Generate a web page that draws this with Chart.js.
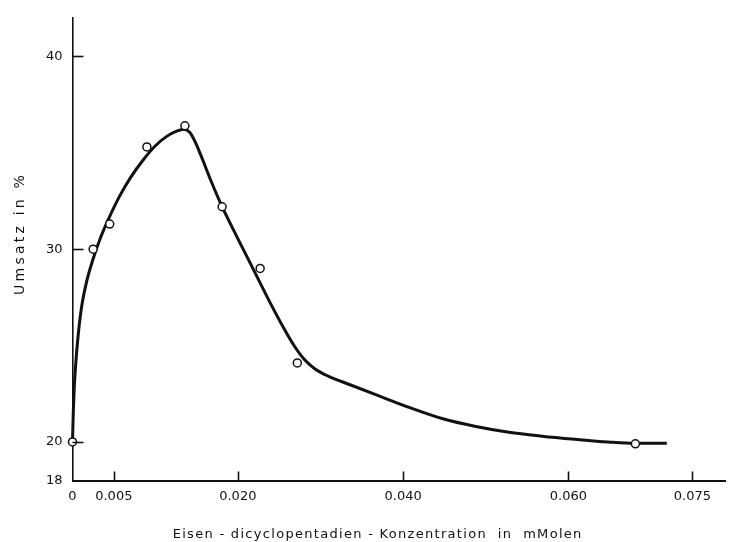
<!DOCTYPE html>
<html>
<head>
<meta charset="utf-8">
<script src="https://cdn.jsdelivr.net/npm/chart.js@4/dist/chart.umd.min.js"></script>
<style>
  html, body { margin: 0; padding: 0; background: #fff; }
  #wrap { width: 731px; height: 542px; position: relative; }
</style>
</head>
<body>
<div id="wrap"><canvas id="chart"></canvas></div>
<script>
/* Umsatz vs. Eisen-dicyclopentadien concentration, scanned-style plot */

const INK = '#111';
const FONT = '"DejaVu Sans", sans-serif';

// axis ticks
const xTicks = [0, 0.005, 0.020, 0.040, 0.060, 0.075];
const xTickLabels = ['0', '0.005', '0.020', '0.040', '0.060', '0.075'];
const yTicks = [18, 20, 30, 40];
const yTickLabels = ['18', '20', '30', '40'];

// measured points (open circles)
const measX = [0, 0.0025, 0.0045, 0.0090, 0.0136, 0.0181, 0.0227, 0.0272, 0.0681];
const measY = [20, 30.0, 31.3, 35.3, 36.4, 32.2, 29.0, 24.1, 19.9];

// hand-drawn fitted curve
const curveX = [0, 0.0001, 0.0002, 0.0004, 0.0007, 0.0011, 0.0017, 0.0025, 0.0034, 0.0045,
  0.0057, 0.0070, 0.0085, 0.0100, 0.0114, 0.0126, 0.0135, 0.0142, 0.0148, 0.0155,
  0.0167, 0.0181, 0.0200, 0.0220, 0.0240, 0.0255, 0.0268, 0.0280, 0.0293, 0.0310,
  0.0335, 0.0370, 0.0408, 0.0448, 0.0488, 0.0528, 0.0568, 0.0608, 0.0648, 0.0681, 0.0719];
const curveY = [20, 21.6, 22.7, 24.1, 25.6, 27.0, 28.3, 29.5, 30.6, 31.7,
  32.75, 33.7, 34.6, 35.35, 35.85, 36.12, 36.22, 36.05, 35.6, 34.9,
  33.6, 32.2, 30.55, 28.85, 27.15, 25.95, 25.0, 24.3, 23.8, 23.4,
  22.98, 22.4, 21.78, 21.2, 20.8, 20.5, 20.3, 20.14, 20.0, 19.93, 19.93];

const xTitle = 'Eisen - dicyclopentadien - Konzentration  in  mMolen';
const yTitle = 'Umsatz in %';

const pts = (xs, ys) => xs.map((x, i) => ({ x, y: ys[i] }));

// inward tick marks, like the original drawing
const inwardTicks = {
  id: 'inwardTicks',
  afterDraw(chart) {
    const { ctx, chartArea: a, scales: { x, y } } = chart;
    ctx.save();
    ctx.strokeStyle = INK;
    ctx.lineWidth = 1.6;
    yTicks.filter((v) => v !== 18).forEach((v) => {
      const py = Math.round(y.getPixelForValue(v)) + 0.5;
      ctx.beginPath(); ctx.moveTo(a.left, py); ctx.lineTo(a.left + 11, py); ctx.stroke();
    });
    xTicks.filter((v) => v !== 0).forEach((v) => {
      const px = Math.round(x.getPixelForValue(v)) + 0.5;
      ctx.beginPath(); ctx.moveTo(px, a.bottom); ctx.lineTo(px, a.bottom - 9); ctx.stroke();
    });
    ctx.restore();
  },
};

// axis titles, spread out like the stencilled lettering
function spacedText(ctx, text, cx, cy, width) {
  ctx.letterSpacing = '0px';
  const w = ctx.measureText(text).width;
  const sp = Math.max(0, (width - w) / text.length);
  ctx.letterSpacing = sp + 'px';
  ctx.fillText(text, cx + sp / 2, cy);
}

const axisTitles = {
  id: 'axisTitles',
  afterDraw(chart) {
    const { ctx } = chart;
    ctx.save();
    ctx.fillStyle = INK;
    ctx.textAlign = 'center';
    ctx.textBaseline = 'middle';
    ctx.font = '13px ' + FONT;
    spacedText(ctx, xTitle, 377, 535, 410);
    ctx.translate(20, 235);
    ctx.rotate(-Math.PI / 2);
    ctx.font = '14px ' + FONT;
    spacedText(ctx, yTitle, 0, 0, 123);
    ctx.restore();
  },
};

new Chart(document.getElementById('chart'), {
  type: 'scatter',
  data: {
    datasets: [
      {
        label: 'Messwerte',
        data: pts(measX, measY),
        order: 0,
        pointRadius: 4,
        pointHoverRadius: 4,
        pointBackgroundColor: '#fff',
        pointBorderColor: INK,
        pointBorderWidth: 1.5,
        showLine: false,
        clip: false,
      },
      {
        label: 'Kurve',
        data: pts(curveX, curveY),
        order: 1,
        showLine: true,
        pointRadius: 0,
        borderColor: INK,
        borderWidth: 3,
        cubicInterpolationMode: 'monotone',
        clip: false,
      },
    ],
  },
  options: {
    responsive: true,
    maintainAspectRatio: false,
    animation: false,
    events: [],
    layout: { padding: { top: 14, left: 0, right: 0, bottom: 0 } },
    plugins: { legend: { display: false }, tooltip: { enabled: false } },
    scales: {
      x: {
        type: 'linear',
        min: 0,
        max: 0.079,
        afterBuildTicks: (s) => { s.ticks = xTicks.map((v) => ({ value: v })); },
        afterFit: (s) => { s.height = 61.5; },
        grid: { display: false, drawTicks: false },
        border: { display: true, color: INK, width: 2 },
        ticks: {
          autoSkip: false, maxRotation: 0, padding: 8, color: INK,
          font: { family: FONT, size: 13 },
          callback: (v, i) => xTickLabels[i],
        },
      },
      y: {
        type: 'linear',
        min: 18,
        max: 42,
        afterBuildTicks: (s) => { s.ticks = yTicks.map((v) => ({ value: v })); },
        afterFit: (s) => { s.width = 72.5; },
        grid: { display: false, drawTicks: false },
        border: { display: true, color: INK, width: 1.6 },
        ticks: {
          autoSkip: false, padding: 10, color: INK,
          font: { family: FONT, size: 13 },
          callback: (v, i) => yTickLabels[i],
        },
      },
    },
  },
  plugins: [inwardTicks, axisTitles],
});
</script>
</body>
</html>
